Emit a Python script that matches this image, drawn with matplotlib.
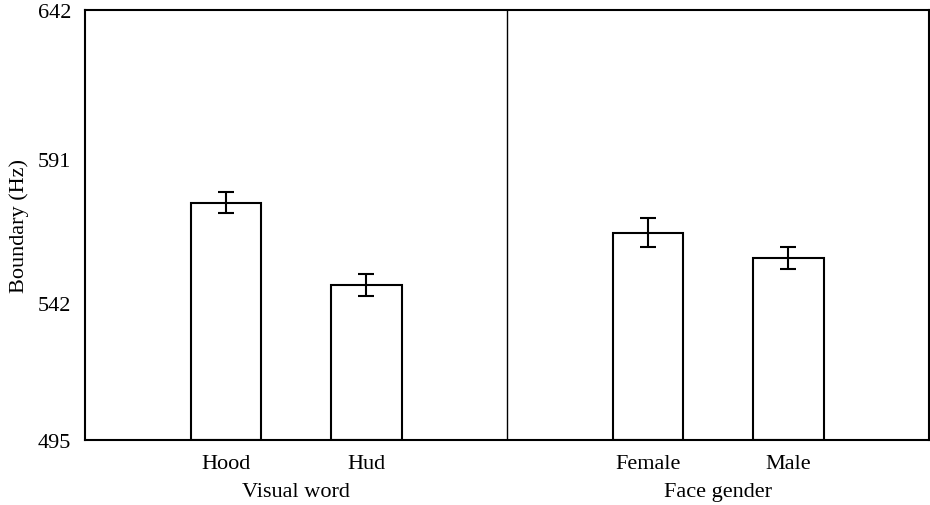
import matplotlib.pyplot as plt
from matplotlib.transforms import blended_transform_factory

# bar data (Hz)
conditions = ['Hood', 'Hud', 'Female', 'Male']
boundary = [576.1, 548.0, 565.9, 557.3]
errors = [3.6, 3.7, 5.0, 3.8]
positions = [1, 2, 4, 5]
groups = ['Visual word', 'Face gender']
group_centers = [1.5, 4.5]
y_ticks = [495, 542, 591, 642]

plt.rcParams['font.family'] = ['Liberation Serif', 'DejaVu Serif']

fig = plt.figure(figsize=(9.3, 5.06), dpi=100)
ax = fig.add_axes([85 / 930, 65 / 506, 844 / 930, 430 / 506])

ax.bar(positions, [b - 495 for b in boundary], bottom=495, width=0.5,
       facecolor='white', edgecolor='black', linewidth=1.5, zorder=2)
ax.errorbar(positions, boundary, yerr=errors, fmt='none', ecolor='black',
            elinewidth=1.5, capsize=5.5, capthick=1.5, zorder=3)

# divider between the two panels
ax.axvline(3, color='black', linewidth=1.0)

ax.set_xlim(0, 6)
ax.set_ylim(495, 642)
ax.set_yticks(y_ticks)
ax.set_yticklabels([str(t) for t in y_ticks])
ax.set_xticks(positions)
ax.set_xticklabels(conditions)
ax.tick_params(axis='both', length=0, labelsize=16)
ax.tick_params(axis='y', pad=10)
ax.tick_params(axis='x', pad=10)
for s in ax.spines.values():
    s.set_linewidth(1.5)

ax.set_ylabel('Boundary (Hz)', fontsize=16, labelpad=6)

trans = blended_transform_factory(ax.transData, ax.transAxes)
for g, c in zip(groups, group_centers):
    ax.text(c, -0.12, g, transform=trans, ha='center', va='center', fontsize=16)

plt.savefig('out.png', dpi=100)
